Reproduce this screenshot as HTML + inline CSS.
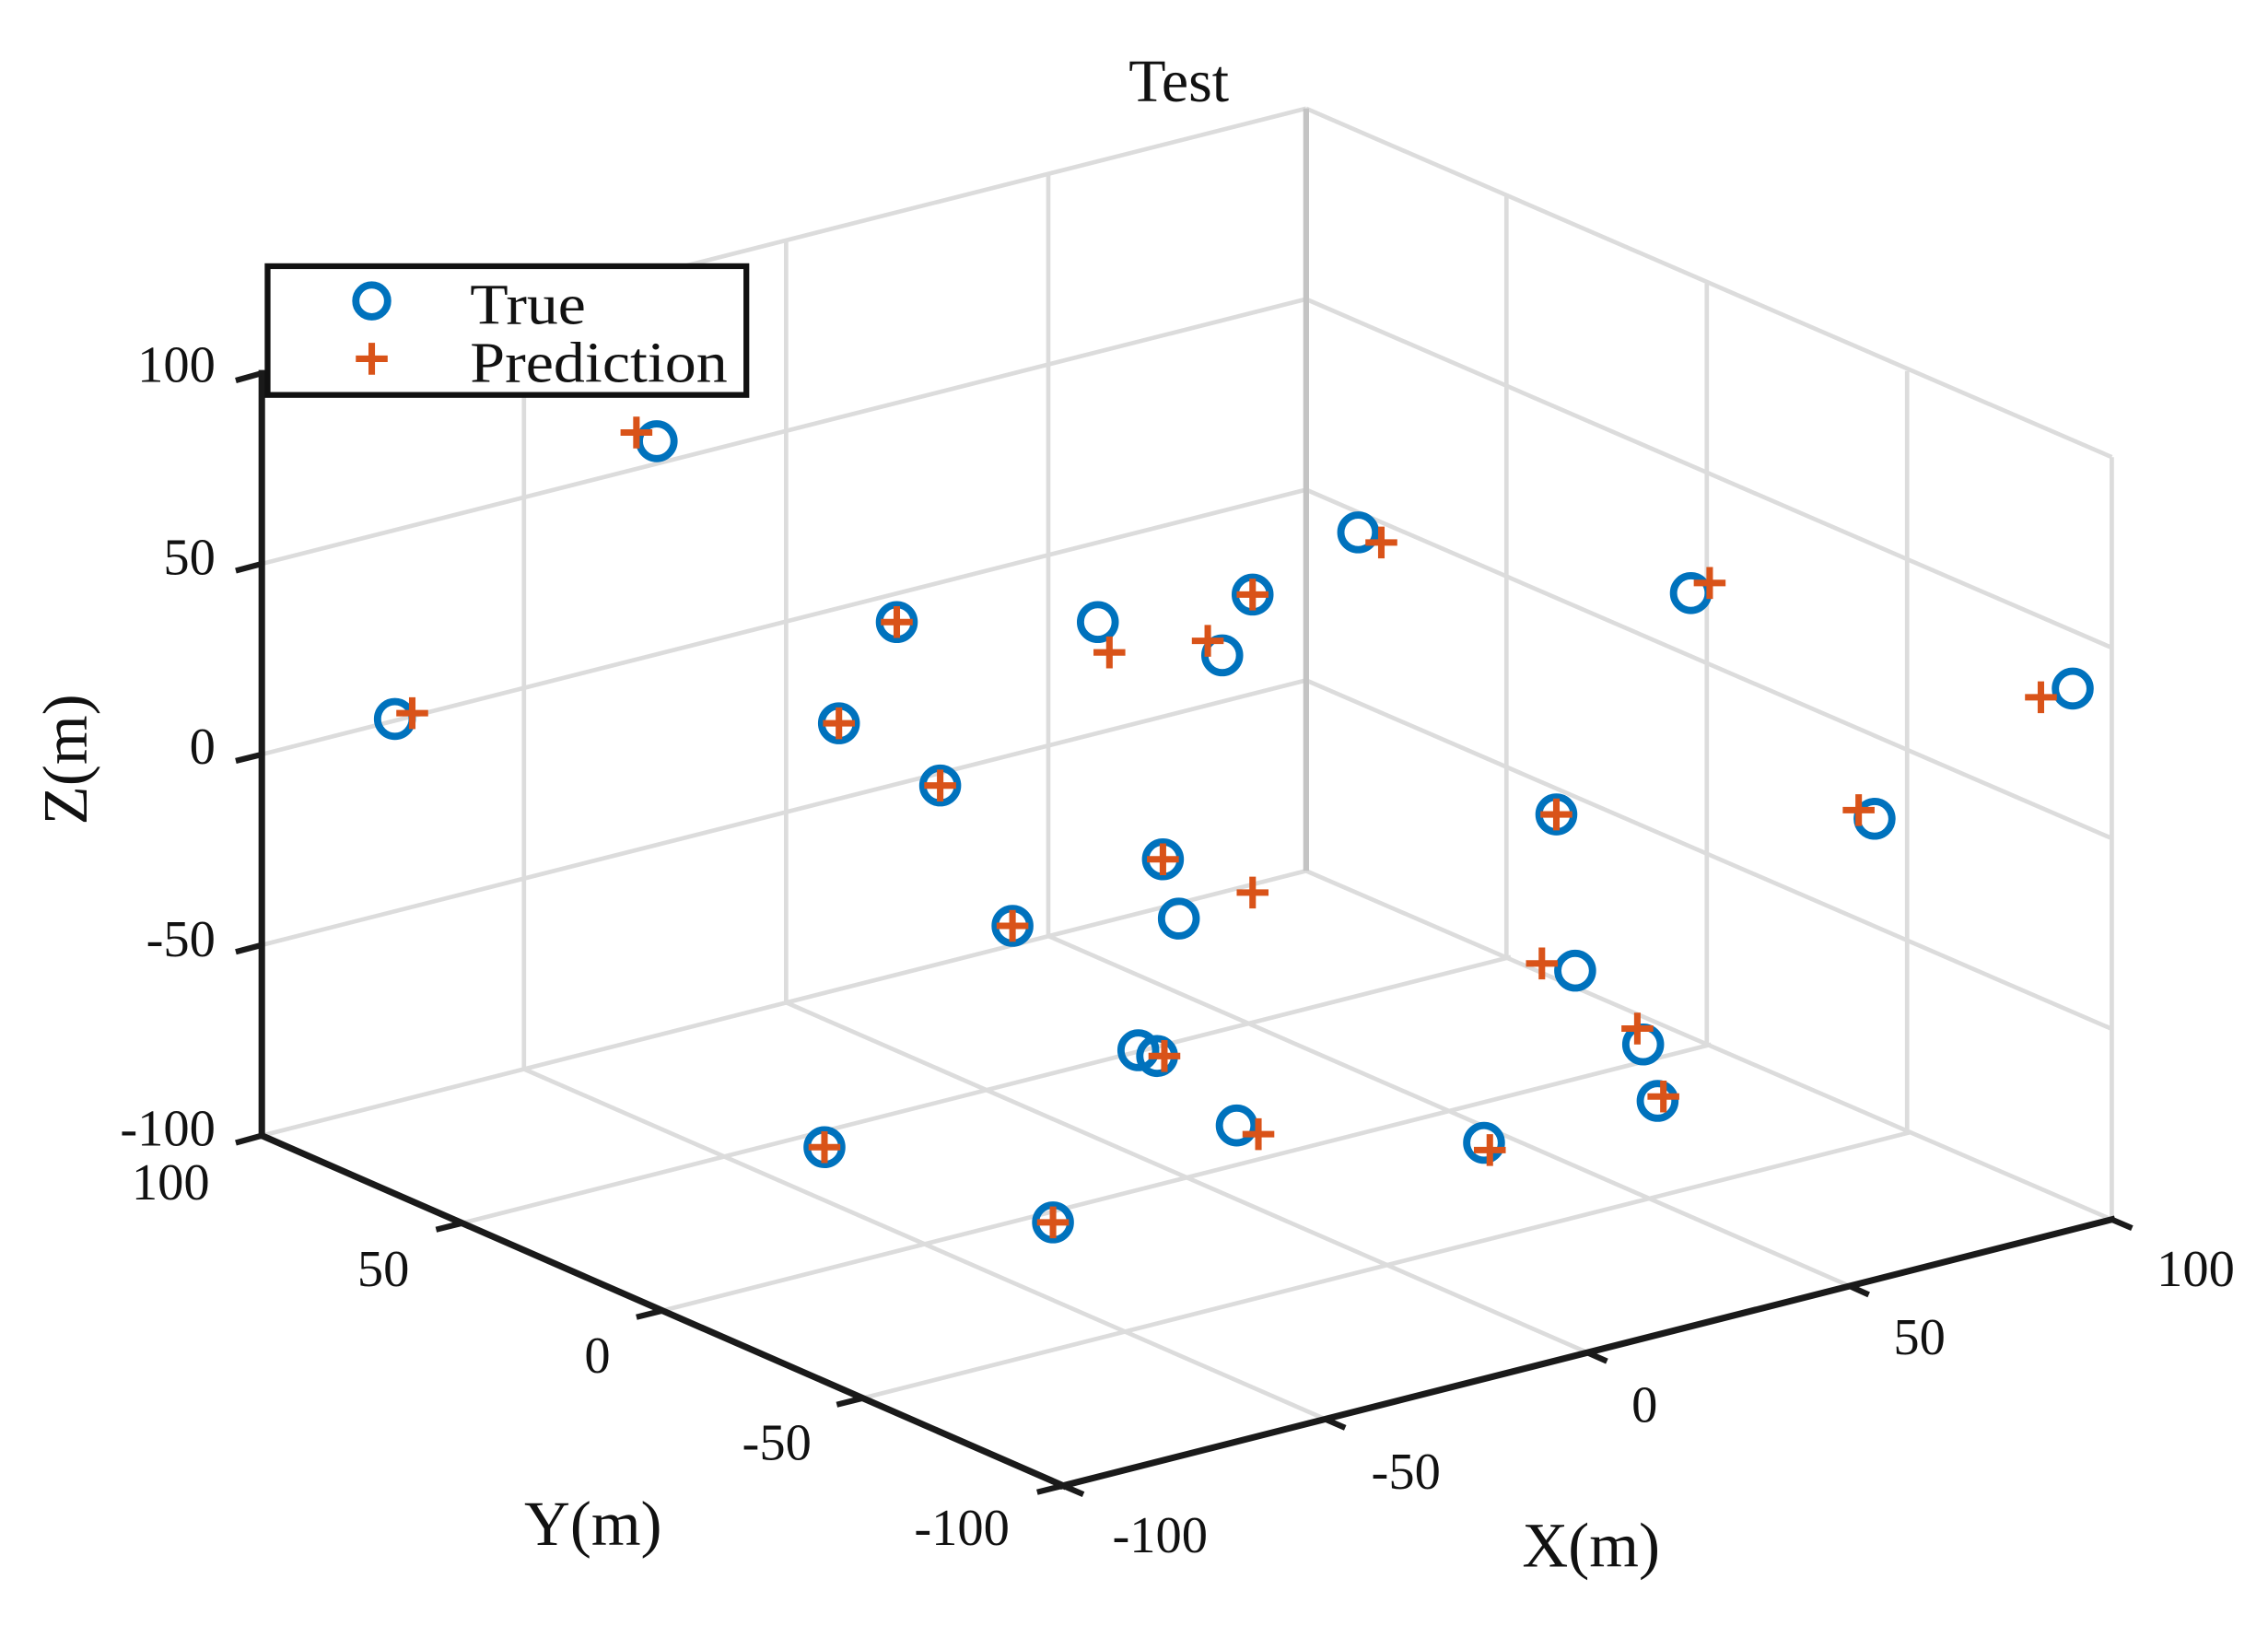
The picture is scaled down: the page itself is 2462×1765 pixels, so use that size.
<!DOCTYPE html>
<html><head><meta charset="utf-8"><style>
html,body{margin:0;padding:0;background:#fff;}
svg{display:block;}
text{font-family:"Liberation Serif",serif;fill:#111;}
</style></head><body>
<svg width="2462" height="1765" viewBox="0 0 1568 1124" preserveAspectRatio="none" xmlns="http://www.w3.org/2000/svg">
<rect width="1568" height="1124" fill="#fff"/>
<g stroke="#dcdcdc" stroke-width="3" fill="none">
<line x1="916.25" y1="981" x2="362.25" y2="739"/>
<line x1="1097.5" y1="935" x2="543.5" y2="693"/>
<line x1="1278.75" y1="889" x2="724.75" y2="647"/>
<line x1="596.5" y1="966.5" x2="1321.5" y2="782.5"/>
<line x1="458" y1="906" x2="1183" y2="722"/>
<line x1="319.5" y1="845.5" x2="1044.5" y2="661.5"/>
<line x1="181" y1="785" x2="903" y2="602"/>
<line x1="903" y1="602" x2="1460" y2="843"/>
<line x1="362.25" y1="739" x2="362.25" y2="212"/>
<line x1="543.5" y1="693" x2="543.5" y2="166"/>
<line x1="724.75" y1="647" x2="724.75" y2="120"/>
<line x1="181" y1="653.25" x2="903" y2="470.25"/>
<line x1="181" y1="521.5" x2="903" y2="338.5"/>
<line x1="181" y1="389.75" x2="903" y2="206.75"/>
<line x1="181" y1="258" x2="903" y2="75"/>
<line x1="1041.5" y1="662.5" x2="1041.5" y2="135.5"/>
<line x1="1180" y1="723" x2="1180" y2="196"/>
<line x1="1318.5" y1="783.5" x2="1318.5" y2="256.5"/>
<line x1="1460" y1="843" x2="1460" y2="316"/>
<line x1="903" y1="470.25" x2="1460" y2="711.25"/>
<line x1="903" y1="338.5" x2="1460" y2="579.5"/>
<line x1="903" y1="206.75" x2="1460" y2="447.75"/>
<line x1="903" y1="75" x2="1460" y2="316"/>
</g>
<line x1="903" y1="75" x2="903" y2="602" stroke="#c4c4c4" stroke-width="4"/>
<g stroke="#1a1a1a" stroke-width="4.5" fill="none" stroke-linecap="square">
<line x1="181" y1="258" x2="181" y2="785"/>
<line x1="181" y1="785" x2="735" y2="1027"/>
<line x1="735" y1="1027" x2="1460" y2="843"/>
</g>
<g stroke="#1a1a1a" stroke-width="4" fill="none">
<line x1="181" y1="258" x2="163" y2="263"/>
<line x1="181" y1="389.75" x2="163" y2="394.5"/>
<line x1="181" y1="521.5" x2="163" y2="526"/>
<line x1="181" y1="653.25" x2="163" y2="658"/>
<line x1="181" y1="785" x2="163" y2="790"/>
<line x1="319.5" y1="845.5" x2="301.5" y2="850"/>
<line x1="458" y1="906" x2="440" y2="910.5"/>
<line x1="596.5" y1="966.5" x2="578.5" y2="971"/>
<line x1="735" y1="1027" x2="717" y2="1031.5"/>
<line x1="735" y1="1027" x2="749" y2="1033"/>
<line x1="916.25" y1="981" x2="930" y2="987"/>
<line x1="1097.5" y1="935" x2="1111" y2="941"/>
<line x1="1278.75" y1="889" x2="1292" y2="895"/>
<line x1="1460" y1="843" x2="1474" y2="849"/>
</g>
<g font-size="36" text-anchor="end">
<text x="149" y="264">100</text>
<text x="149" y="397">50</text>
<text x="149" y="528">0</text>
<text x="149" y="661">-50</text>
<text x="149" y="792">-100</text>
</g>
<g font-size="36" text-anchor="middle">
<text x="118" y="829">100</text>
<text x="265" y="889">50</text>
<text x="413" y="949">0</text>
<text x="537" y="1009">-50</text>
<text x="665" y="1068">-100</text>
<text x="802" y="1073">-100</text>
<text x="972" y="1029">-50</text>
<text x="1137" y="983">0</text>
<text x="1327" y="936">50</text>
<text x="1518" y="889">100</text>
</g>
<text x="815" y="70" font-size="42" text-anchor="middle">Test</text>
<text x="410" y="1068" font-size="44" text-anchor="middle">Y(m)</text>
<text x="1100" y="1083" font-size="44" text-anchor="middle">X(m)</text>
<text transform="translate(60,525) rotate(-90)" font-size="44" text-anchor="middle">Z(m)</text>
<g fill="none" stroke="#0072BD" stroke-width="5">
<circle cx="454" cy="305" r="12"/><circle cx="273" cy="497" r="12"/><circle cx="620" cy="430" r="12"/>
<circle cx="580" cy="500" r="12"/><circle cx="650" cy="543" r="12"/><circle cx="759" cy="430" r="12"/>
<circle cx="845" cy="453" r="12"/><circle cx="866" cy="411" r="12"/><circle cx="939" cy="368" r="12"/>
<circle cx="1169" cy="410" r="12"/><circle cx="1433" cy="476" r="12"/><circle cx="1076" cy="563" r="12"/>
<circle cx="1296" cy="566" r="12"/><circle cx="804" cy="594" r="12"/><circle cx="815" cy="635" r="12"/>
<circle cx="700" cy="640" r="12"/><circle cx="1089" cy="671" r="12"/><circle cx="1136" cy="722" r="12"/>
<circle cx="1146" cy="761" r="12"/><circle cx="787" cy="726" r="12"/><circle cx="800" cy="730" r="12"/>
<circle cx="855" cy="778" r="12"/><circle cx="1026" cy="790" r="12"/><circle cx="570" cy="793" r="12"/>
<circle cx="728" cy="845" r="12"/>
</g>
<g stroke="#D95319" stroke-width="4.5" fill="none">
<path d="M429 299h22M440 288v22"/><path d="M274 493h22M285 482v22"/><path d="M609 430h22M620 419v22"/>
<path d="M569 500h22M580 489v22"/><path d="M639 543h22M650 532v22"/><path d="M756 451h22M767 440v22"/>
<path d="M824 443h22M835 432v22"/><path d="M855 411h22M866 400v22"/><path d="M944 375h22M955 364v22"/>
<path d="M1171 403h22M1182 392v22"/><path d="M1400 482h22M1411 471v22"/><path d="M1065 563h22M1076 552v22"/>
<path d="M1274 560h22M1285 549v22"/><path d="M793 594h22M804 583v22"/><path d="M855 617h22M866 606v22"/>
<path d="M689 640h22M700 629v22"/><path d="M1055 666h22M1066 655v22"/><path d="M1121 711h22M1132 700v22"/>
<path d="M1139 758h22M1150 747v22"/><path d="M794 730h22M805 719v22"/><path d="M859 784h22M870 773v22"/>
<path d="M1019 795h22M1030 784v22"/><path d="M559 793h22M570 782v22"/><path d="M717 845h22M728 834v22"/>
</g>
<rect x="185" y="184" width="331" height="89" fill="#fff" stroke="#111" stroke-width="4"/>
<circle cx="257" cy="208" r="11" fill="none" stroke="#0072BD" stroke-width="5"/>
<path d="M246 248h22M257 237v22" stroke="#D95319" stroke-width="4.5"/>
<text x="325" y="224" font-size="40" textLength="80" lengthAdjust="spacingAndGlyphs">True</text>
<text x="325" y="264" font-size="40" textLength="178" lengthAdjust="spacingAndGlyphs">Prediction</text>
</svg>
</body></html>
